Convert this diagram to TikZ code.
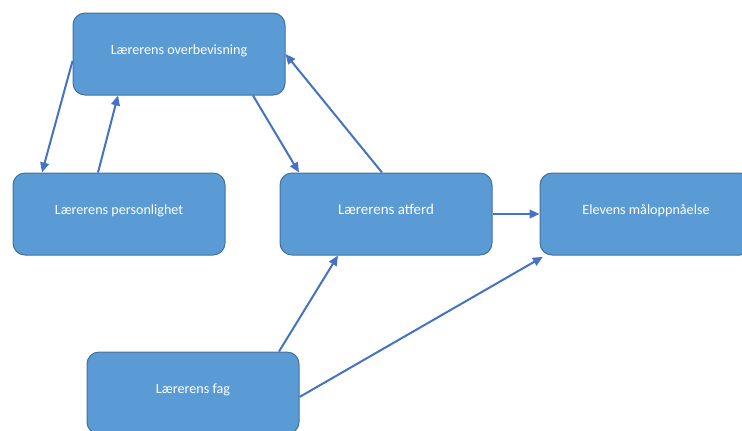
\documentclass[tikz,border=0pt]{standalone}
\usepackage{fontspec}
\setmainfont{Carlito}
\usetikzlibrary{arrows.meta}

\definecolor{boxfill}{RGB}{91,155,213}
\definecolor{boxline}{RGB}{65,113,156}
\definecolor{arrowblue}{RGB}{68,114,196}

\tikzset{every picture/.style={line width=0.75pt}}
\tikzset{
  factor/.style={draw=boxline, fill=boxfill, rounded corners=9pt, line width=0.75pt,
    minimum width=159pt, minimum height=61.5pt, text=white,
    font=\fontsize{10.6}{12}\selectfont, text height=7pt, text depth=6pt},
  link/.style={draw=arrowblue, line width=1.5pt, -{Triangle[length=7.5pt,width=6.5pt]}}
}

\begin{document}
\begin{tikzpicture}[x=0.75pt,y=0.75pt,yscale=-1,xscale=1]
	\useasboundingbox (0,0) rectangle (742,430);
	
	%Rounded Rect 
	\node [factor] (ovb) at (179,54) {Lærerens overbevisning};
	%Rounded Rect 
	\node [factor] (per) at (119,214) {Lærerens personlighet};
	%Rounded Rect 
	\node [factor, font=\fontsize{11.2}{13}\selectfont] (atf) at (386,214) {Lærerens atferd};
	%Rounded Rect 
	\node [factor] (elv) at (646,214) {Elevens måloppnåelse};
	%Rounded Rect 
	\node [factor] (fag) at (193,393) {Lærerens fag};
	
	%Straight Lines 
	\draw [link] ([yshift=5.25pt]ovb.west) -- ([xshift=-57.75pt]per.north);
	%Straight Lines 
	\draw [link] ([xshift=-15.75pt]per.north) -- ([xshift=-45.75pt]ovb.south);
	%Straight Lines 
	\draw [link] ([xshift=55.5pt]ovb.south) -- ([xshift=-65.25pt]atf.north);
	%Straight Lines 
	\draw [link] ([xshift=-3pt]atf.north) -- (ovb.east);
	%Straight Lines 
	\draw [link] (atf.east) -- (elv.west);
	%Straight Lines 
	\draw [link] ([xshift=64.5pt]fag.north) -- ([xshift=-36pt]atf.south);
	%Straight Lines 
	\draw [link] ([yshift=3pt]fag.east) -- ([xshift=2.5pt,yshift=1pt]elv.south west);
	
\end{tikzpicture}
\end{document}
